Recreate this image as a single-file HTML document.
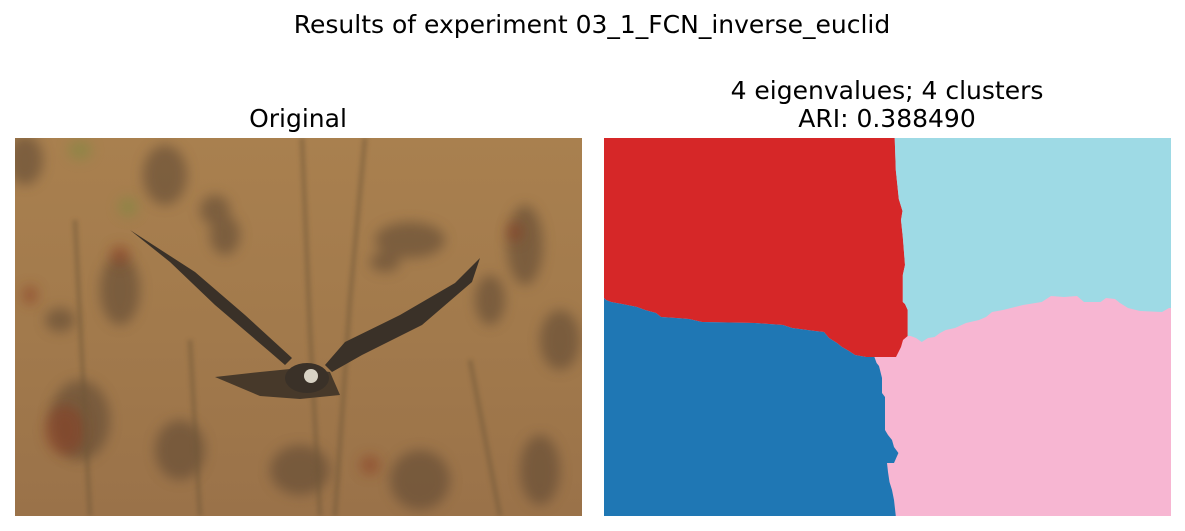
<!DOCTYPE html>
<html><head><meta charset="utf-8"><style>
html,body{margin:0;padding:0;background:#fff;}
svg{display:block;font-family:"DejaVu Sans","Liberation Sans",sans-serif;}
</style></head><body>
<svg id="fig" width="1185" height="531" viewBox="0 0 1185 531">
<defs>
<filter id="blur6" x="-50%" y="-50%" width="200%" height="200%"><feGaussianBlur stdDeviation="6"/></filter>
<filter id="blur2"><feGaussianBlur stdDeviation="2"/></filter>
<clipPath id="clipL"><rect x="15" y="138" width="567" height="378"/></clipPath>
<linearGradient id="bgG" x1="0" y1="0" x2="0" y2="1">
<stop offset="0" stop-color="#a9804f"/><stop offset="0.5" stop-color="#a27a4c"/><stop offset="1" stop-color="#9a7249"/></linearGradient>
</defs>
<text x="592" y="33" text-anchor="middle" font-size="25" fill="#000">Results of experiment 03_1_FCN_inverse_euclid</text>
<text x="298" y="127" text-anchor="middle" font-size="25" fill="#000">Original</text>
<text x="887" y="99" text-anchor="middle" font-size="25" fill="#000">4 eigenvalues; 4 clusters</text>
<text x="887" y="127" text-anchor="middle" font-size="25" fill="#000">ARI: 0.388490</text>
<g clip-path="url(#clipL)">
<rect x="15" y="138" width="567" height="378" fill="url(#bgG)"/>
<g filter="url(#blur6)" fill="#5a4530" opacity="0.55">
<ellipse cx="25" cy="160" rx="18" ry="25"/><ellipse cx="165" cy="175" rx="22" ry="30"/>
<ellipse cx="215" cy="210" rx="15" ry="15"/><ellipse cx="225" cy="235" rx="15" ry="20"/>
<ellipse cx="410" cy="240" rx="35" ry="18"/><ellipse cx="525" cy="245" rx="18" ry="40"/>
<ellipse cx="385" cy="262" rx="15" ry="10"/><ellipse cx="120" cy="290" rx="20" ry="35"/>
<ellipse cx="60" cy="320" rx="15" ry="12"/><ellipse cx="560" cy="340" rx="20" ry="30"/>
<ellipse cx="490" cy="300" rx="15" ry="25"/><ellipse cx="80" cy="420" rx="30" ry="40"/>
<ellipse cx="180" cy="450" rx="25" ry="30"/><ellipse cx="420" cy="480" rx="30" ry="30"/>
<ellipse cx="540" cy="470" rx="20" ry="35"/><ellipse cx="300" cy="470" rx="30" ry="25"/>
</g>
<g filter="url(#blur6)" fill="#8a3a20" opacity="0.5">
<ellipse cx="120" cy="255" rx="10" ry="10"/><ellipse cx="30" cy="295" rx="8" ry="10"/>
<ellipse cx="515" cy="232" rx="8" ry="10"/><ellipse cx="65" cy="430" rx="20" ry="25"/><ellipse cx="370" cy="465" rx="10" ry="10"/>
</g>
<g filter="url(#blur6)" fill="#7a8a40" opacity="0.5"><ellipse cx="80" cy="150" rx="12" ry="10"/><ellipse cx="128" cy="207" rx="10" ry="10"/></g>
<g stroke="#6e5638" stroke-width="5" opacity="0.45" filter="url(#blur2)" fill="none">
<path d="M302 138 L310 330 L320 516"/><path d="M365 138 L350 300 L335 516"/>
<path d="M75 220 L90 516"/><path d="M190 340 L200 516"/><path d="M470 360 L500 516"/>
</g>
<g>
<path d="M130 230 L170 262 L215 305 L270 352 L285 365 L292 358 L245 315 L195 272 Z" fill="#3a3128"/>
<path d="M480 258 L455 283 L400 315 L345 342 L325 365 L332 372 L362 355 L422 325 L472 282 Z" fill="#3a3128"/>
<path d="M215 377 L260 372 L300 368 L330 372 L340 395 L300 399 L260 396 Z" fill="#47392a"/>
<ellipse cx="307" cy="378" rx="22" ry="15" fill="#3a3128"/>
<ellipse cx="311" cy="376" rx="7" ry="7" fill="#d8d2c4"/>
</g>
</g>
<g id="seg"></g>
<script>
const redCyanBoundary = [[894.7,138],[895.8,170],[898.8,199],[902.5,211],[901,220],[902.8,237],[905,265],[902.8,275],[902.8,302],[905,304],[907.7,310],[907.7,336]];
const redBottom = [[903,340],[901,347],[898,353],[896,357],[866,357]];
const redBlueBoundary = [[855,355],[849,351],[842,347],[837,343],[829,338],[824,332],[815,331],[792,328],[783,325],[755,323],[702,322],[689,319],[676,318],[661,317],[656,313],[645,310],[637,307],[622,304],[611,302],[606,300],[604,298]];
const bluePinkBoundary = [[874.4,357],[876.6,363],[879,366],[882,378],[882,393],[885,397],[885,430],[888,435],[892,440],[894,447],[898.4,453],[894,463],[887,463],[888,472],[889.5,482],[892,490],[894,500],[895.8,516]];
const cyanPinkBoundary = [[907.7,336],[910.6,336],[916,338],[921.7,342],[928,338],[934.6,337],[940,333],[945.7,330],[955,328],[966,323],[979,320],[986,317],[992,312],[1003,310],[1023,305],[1041.7,302],[1051,296],[1064,297],[1077,296],[1084,302],[1100.6,302],[1106,298],[1115,299],[1120,303],[1128,308],[1140,311],[1162,312],[1169,308],[1171,308]];
const g = document.getElementById('seg');
function poly(pts, color, name){
  const p = document.createElementNS('http://www.w3.org/2000/svg','polygon');
  p.setAttribute('points', pts.map(q=>q.join(',')).join(' '));
  p.setAttribute('fill', color);
  
  
  g.appendChild(p);
}
const bg = document.createElementNS('http://www.w3.org/2000/svg','rect');
bg.setAttribute('x',604);bg.setAttribute('y',138);bg.setAttribute('width',567);bg.setAttribute('height',378);bg.setAttribute('fill','#f7b6d2');


g.appendChild(bg);
poly([[604,138],...redCyanBoundary,...redBottom,...redBlueBoundary], '#d62728', 'cluster-red');
poly([[1171,138],[894.7,138],...redCyanBoundary,...cyanPinkBoundary,[1171,308]], '#9edae5', 'cluster-cyan');
poly([[604,298],...redBlueBoundary.slice().reverse(),[866,357],...bluePinkBoundary,[604,516]], '#1f77b4', 'cluster-blue');
</script>
</svg>
</body></html>
